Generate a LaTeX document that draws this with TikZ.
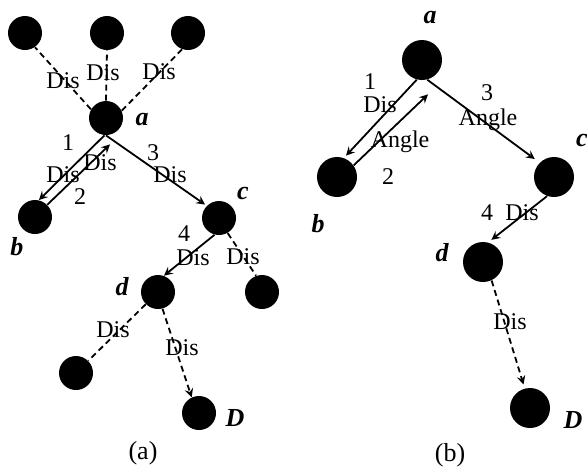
\documentclass[tikz,border=0pt]{standalone}
\usepackage{fontspec}
\setmainfont{Liberation Serif}
\usetikzlibrary{arrows,positioning}

\begin{document}
\begin{tikzpicture}[
  x=0.5pt, y=-0.5pt,
  dot/.style={circle, fill=black, inner sep=0pt, minimum size=17pt},
  bigdot/.style={circle, fill=black, inner sep=0pt, minimum size=20pt},
  arrow/.style={->, line width=0.9pt, >=stealth},
  link/.style={line width=0.9pt, dash pattern=on 3pt off 2pt},
  txt/.style={inner sep=0pt, font=\fontsize{12}{14}\selectfont},
  subcap/.style={inner sep=0pt, font=\fontsize{13}{15}\selectfont},
  lbl/.style={inner sep=0pt, font=\fontsize{13}{15}\selectfont\bfseries\itshape}
]
\useasboundingbox (0,0) rectangle (587,467);

% (a)
\node[dot] (t1) at (25,33) {};
\node[dot] (t2) at (107,33) {};
\node[dot] (t3) at (188,33) {};
\node[dot] (a1) at (106,118) {};
\node[dot] (b1) at (35,217) {};
\node[dot] (c1) at (219,218) {};
\node[dot] (d1) at (158,292) {};
\node[dot] (e1) at (262,292) {};
\node[dot] (f1) at (76,373) {};
\node[dot] (D1) at (199,413) {};

\draw[link] (a1.150) -- (t1.305);
\draw[link] (a1.north) -- (t2.south);
\draw[link] (a1.25) -- (t3.250);
\draw[arrow] (a1.265) -- (b1.77);
\draw[arrow] (b1.45) -- ([shift={(4,9)}]a1.south);
\draw[arrow, shorten >=1pt] (a1.south) -- (c1.135);
\draw[arrow] (c1.255) -- (d1.70);
\draw[link] (c1.300) -- (e1.110);
\draw[link] (d1.225) -- (f1.45);
\draw[arrow, link] (d1.285) -- (D1.115);

\node[txt] (dis1) at (63,81) {Dis};
\node[txt] (dis2) at (103,73) {Dis};
\node[txt] (dis3) at (159,72) {Dis};
\node[txt] (n1) at (68,143) {1};
\node[txt] (dis4) at (63,175) {Dis};
\node[txt] (dis5) at (100,163) {Dis};
\node[txt] (n2) at (80,197) {2};
\node[txt] (n3) at (153,153) {3};
\node[txt] (dis6) at (170,175) {Dis};
\node[txt] (n4) at (184,234) {4};
\node[txt] (dis7) at (193,258) {Dis};
\node[txt] (dis8) at (243,257) {Dis};
\node[txt] (dis9) at (113,330) {Dis};
\node[txt] (dis10) at (182,348) {Dis};

\node[lbl] (la1) at (142,120) {a};
\node[lbl] (lb1) at (17,247) {b};
\node[lbl] (lc1) at (243,193) {c};
\node[lbl] (ld1) at (122,287) {d};
\node[lbl] (lD1) at (235,418) {D};
\node[subcap] (capa) at (143,453) {(a)};

% (b)
\node[bigdot] (a2) at (422,60) {};
\node[bigdot] (b2) at (337,177) {};
\node[bigdot] (c2) at (554,177) {};
\node[bigdot] (d2) at (483,262) {};
\node[bigdot] (D2) at (530,408) {};

\draw[arrow, shorten >=1.5pt] (a2.255) -- (b2.70);
\draw[arrow] (b2.35) -- ([shift={(6,14)}]a2.south);
\draw[arrow, shorten >=3pt] (a2.285) -- (c2.135);
\draw[arrow, shorten >=2pt] (c2.250) -- (d2.75);
\draw[arrow, link, shorten >=2pt] (d2.295) -- (D2.105);

\node[txt] (m1) at (370,82) {1};
\node[txt] (dis11) at (380,105) {Dis};
\node[txt] (ang1) at (400,142) {Angle};
\node[txt] (m2) at (388,177) {2};
\node[txt] (m3) at (487,93) {3};
\node[txt] (ang2) at (488,120) {Angle};
\node[txt] (m4) at (487,213) {4};
\node[txt] (dis12) at (522,213) {Dis};
\node[txt] (dis13) at (510,322) {Dis};

\node[lbl] (la2) at (430,18) {a};
\node[lbl] (lb2) at (318,224) {b};
\node[lbl] (lc2) at (582,140) {c};
\node[lbl] (ld2) at (442,253) {d};
\node[lbl] (lD2) at (573,420) {D};
\node[subcap] (capb) at (450,455) {(b)};
\end{tikzpicture}
\end{document}
